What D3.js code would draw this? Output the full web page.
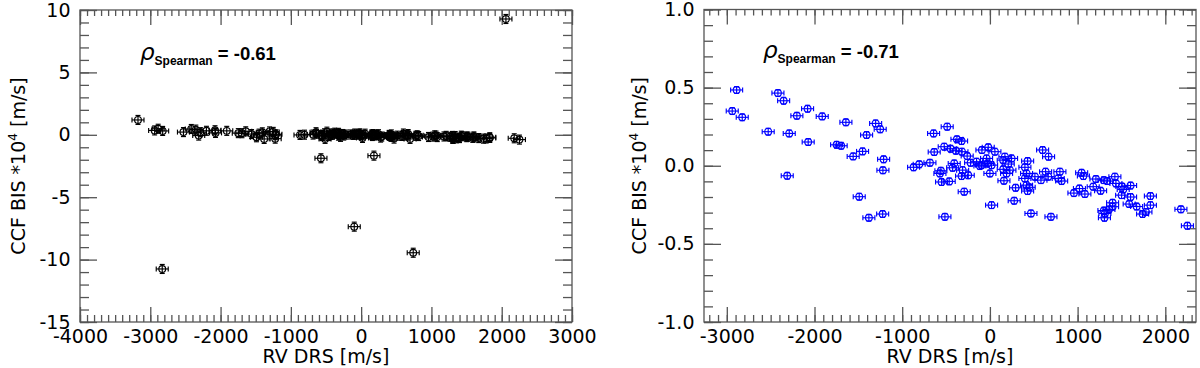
<!DOCTYPE html>
<html>
<head>
<meta charset="utf-8">
<script src="https://cdn.jsdelivr.net/npm/d3@7"></script>
<style>
  body { margin: 0; background: #fff; }
  .tick text { font-family: 'DejaVu Sans', sans-serif; font-size: 19px; fill: #000; }
  .tick line { stroke: #555; stroke-width: 1.3; }
  .domain { display: none; }
</style>
</head>
<body>
<script>
// RV DRS [m/s] vs CCF BIS [1e4 m/s], the points shared by both panels
let rvDrs = [
    -2888, -2938, -2824, -2417, -2352, -2528, -2288, -2311, -2201, -2079,
    -2072, -1912, -1748, -1696, -1642, -1559, -1452, -1490, -1406, -1303,
    -1251, -1380, -1223, -1212, -1220,
    -487, -642, -376, -323, -521, -635, -448, -388, -319, -259,
    -91, -220, -152, -114, -684, -806, -870, -407, -425, -559,
    -570, -311, -323, -247, -551, -464, -293, -513,
    -19, 57, -38, -26, -95, 19, 0, 171, 152, 247,
    209, 152, 228, 190, 160, 293, 277, 19, 430, 399,
    418, 399, 418, 448, 430, 601, 669, 513, 582, 635,
    665, 798, 779, 818, 1046, 1021, 958, 468, 696,
    1066, 1083, 1209, 1178, 1262, 1300, 1338, 1425, 1437, 1505,
    1520, 1502, 1604, 1604, 1588, 1673, 1399, 1399, 1357, 1300,
    1311, 1306, 1741, 1779, 1830, 1830, 2178, 2252
]
let ccfBis = [
    0.485, 0.350, 0.310, 0.465, 0.416, 0.218, 0.207, -0.064, 0.320, 0.365,
    0.152, 0.316, 0.134, 0.128, 0.278, 0.060, 0.092, -0.198, 0.197, 0.271,
    0.233, -0.333, -0.309, 0.041, -0.029,
    0.250, 0.207, 0.169, 0.158, 0.122, 0.088, 0.109, 0.096, 0.090, 0.062,
    0.101, 0.019, 0.026, -0.002, 0.019, 0.009, -0.010, 0.015, -0.013, -0.032,
    -0.049, -0.028, -0.066, -0.061, -0.104, -0.100, -0.166, -0.327,
    0.118, 0.090, 0.047, 0.015, 0.004, 0.004, -0.049, 0.058, 0.036, 0.047,
    0.011, -0.023, -0.028, -0.049, -0.096, -0.141, -0.224, -0.252, 0.030, -0.010,
    -0.049, -0.081, -0.124, -0.138, -0.162, 0.101, 0.058, -0.070, -0.092, -0.038,
    -0.070, -0.038, -0.081, -0.098, -0.045, -0.146, -0.175, -0.305, -0.327,
    -0.066, -0.181, -0.085, -0.134, -0.160, -0.092, -0.098, -0.070, -0.113, -0.133,
    -0.152, -0.188, -0.127, -0.200, -0.245, -0.261, -0.237, -0.262, -0.280, -0.287,
    -0.306, -0.333, -0.309, -0.296, -0.194, -0.252, -0.279, -0.384
]

// outliers only seen in the left panel
let outlierRv = [-3175, -2830, 2060, -572, 182, -98, 741]
let outlierBis = [1.19, -10.75, 9.28, -1.88, -1.67, -7.36, -9.45]

// ticks
let leftXMajor = [-4000, -3000, -2000, -1000, 0, 1000, 2000, 3000]
let leftXMinor = d3.range(-40, 31).map(d => d * 100)
let leftYMajor = [-15, -10, -5, 0, 5, 10]
let leftYMinor = d3.range(-15, 11)
let rightXMajor = [-3000, -2000, -1000, 0, 1000, 2000]
let rightXMinor = d3.range(-32, 24).map(d => d * 100)
let rightYMajor = [-1, -0.5, 0, 0.5, 1]
let rightYMinor = d3.range(-10, 11).map(d => d / 10)

let rhoLeft = '-0.61'
let rhoRight = '-0.71'

let svg = d3.select('body')
    .append('svg')
    .attr('width', 1200)
    .attr('height', 368)

const points = (xs, ys) => xs.map((x, i) => ({x: x, y: ys[i]}))

const drawPanel = (p) => {

    let x = d3.scaleLinear().domain(p.xDomain).range([p.left, p.right])
    let y = d3.scaleLinear().domain(p.yDomain).range([p.bottom, p.top])

    let g = svg.append('g')

    // frame
    g.append('rect')
        .attr('x', p.left)
        .attr('y', p.top)
        .attr('width', p.right - p.left)
        .attr('height', p.bottom - p.top)
        .attr('fill', 'none')
        .attr('stroke', '#555')
        .attr('stroke-width', 1.3)

    // minor ticks
    g.append('g').attr('transform', `translate(0, ${p.bottom})`)
        .call(d3.axisBottom(x).tickValues(p.xMinor).tickSizeInner(-7).tickSizeOuter(0).tickFormat(''))
    g.append('g').attr('transform', `translate(0, ${p.top})`)
        .call(d3.axisTop(x).tickValues(p.xMinor).tickSizeInner(-6).tickSizeOuter(0).tickFormat(''))
    g.append('g').attr('transform', `translate(${p.left}, 0)`)
        .call(d3.axisLeft(y).tickValues(p.yMinor).tickSizeInner(-9).tickSizeOuter(0).tickFormat(''))
    g.append('g').attr('transform', `translate(${p.right}, 0)`)
        .call(d3.axisRight(y).tickValues(p.yMinor).tickSizeInner(-9).tickSizeOuter(0).tickFormat(''))

    // major ticks
    g.append('g').attr('transform', `translate(0, ${p.bottom})`)
        .call(d3.axisBottom(x).tickValues(p.xMajor).tickSizeInner(-15).tickSizeOuter(0)
            .tickPadding(7.5).tickFormat(d => String(d)))
    g.append('g').attr('transform', `translate(0, ${p.top})`)
        .call(d3.axisTop(x).tickValues(p.xMajor).tickSizeInner(-15).tickSizeOuter(0).tickFormat(''))
    g.append('g').attr('transform', `translate(${p.left}, 0)`)
        .call(d3.axisLeft(y).tickValues(p.yMajor).tickSizeInner(-17).tickSizeOuter(0)
            .tickPadding(9.5).tickFormat(p.yFormat))
    g.append('g').attr('transform', `translate(${p.right}, 0)`)
        .call(d3.axisRight(y).tickValues(p.yMajor).tickSizeInner(-17).tickSizeOuter(0).tickFormat(''))

    // axis titles
    g.append('text')
        .attr('x', (p.left + p.right) / 2)
        .attr('y', 362.5)
        .attr('text-anchor', 'middle')
        .style('font-family', "'DejaVu Sans', sans-serif")
        .style('font-size', '19px')
        .text('RV DRS [m/s]')

    let yt = g.append('text')
        .attr('transform', `translate(${p.yTitleX}, ${(p.top + p.bottom) / 2}) rotate(-90)`)
        .attr('text-anchor', 'middle')
        .style('font-family', "'DejaVu Sans', sans-serif")
        .style('font-size', '19px')
    yt.append('tspan').text('CCF BIS *10')
    yt.append('tspan').attr('dy', -8).style('font-size', '12px').text('4')
    yt.append('tspan').attr('dy', 8).text(' [m/s]')

    // spearman annotation
    let ann = g.append('text')
        .attr('x', p.annX)
        .attr('y', p.annY)
        .style('font-family', "'Liberation Sans', Arial, sans-serif")
        .style('font-weight', 'bold')
    ann.append('tspan')
        .style('font-family', "'DejaVu Sans', sans-serif")
        .style('font-style', 'italic')
        .style('font-weight', 'normal')
        .style('font-size', '23px')
        .text('ρ')
    ann.append('tspan').attr('dy', 5).style('font-size', '12px').text('Spearman')
    ann.append('tspan').attr('dy', -5).style('font-size', '18.5px').text(' = ' + p.rho)

    // markers: open circle with error bars
    let m = g.selectAll('g.pt')
        .data(p.data)
        .enter()
        .append('g')
        .classed('pt', true)
        .attr('transform', d => `translate(${x(d.x)}, ${y(d.y)})`)
        .attr('stroke', p.color)
        .attr('stroke-width', 1.15)
        .attr('fill', 'none')

    m.append('circle').attr('r', 3.4)
    m.append('line').attr('x1', -6).attr('x2', 6).attr('y1', 0).attr('y2', 0)
    m.append('line').attr('x1', -6).attr('x2', -6).attr('y1', -2.5).attr('y2', 2.5)
    m.append('line').attr('x1', 6).attr('x2', 6).attr('y1', -2.5).attr('y2', 2.5)
    m.append('line').attr('x1', 0).attr('x2', 0).attr('y1', -p.yBar).attr('y2', p.yBar)
    m.append('line').attr('x1', -2.5).attr('x2', 2.5).attr('y1', -p.yBar).attr('y2', -p.yBar)
    m.append('line').attr('x1', -2.5).attr('x2', 2.5).attr('y1', p.yBar).attr('y2', p.yBar)
}

drawPanel({
    left: 80, right: 572, top: 10, bottom: 322,
    xDomain: [-4000, 3000], yDomain: [-15, 10],
    xMajor: leftXMajor, xMinor: leftXMinor, yMajor: leftYMajor, yMinor: leftYMinor,
    yFormat: d => String(d),
    yTitleX: 25, annX: 140, annY: 60, rho: rhoLeft,
    color: '#000', yBar: 4.5,
    data: points(rvDrs, ccfBis).concat(points(outlierRv, outlierBis))
})

drawPanel({
    left: 704, right: 1196, top: 9.5, bottom: 322,
    xDomain: [-3260, 2350], yDomain: [-1, 1],
    xMajor: rightXMajor, xMinor: rightXMinor, yMajor: rightYMajor, yMinor: rightYMinor,
    yFormat: d => d.toFixed(1),
    yTitleX: 646, annX: 763, annY: 58, rho: rhoRight,
    color: '#0000ff', yBar: 3.4,
    data: points(rvDrs, ccfBis)
})
</script>
</body>
</html>
